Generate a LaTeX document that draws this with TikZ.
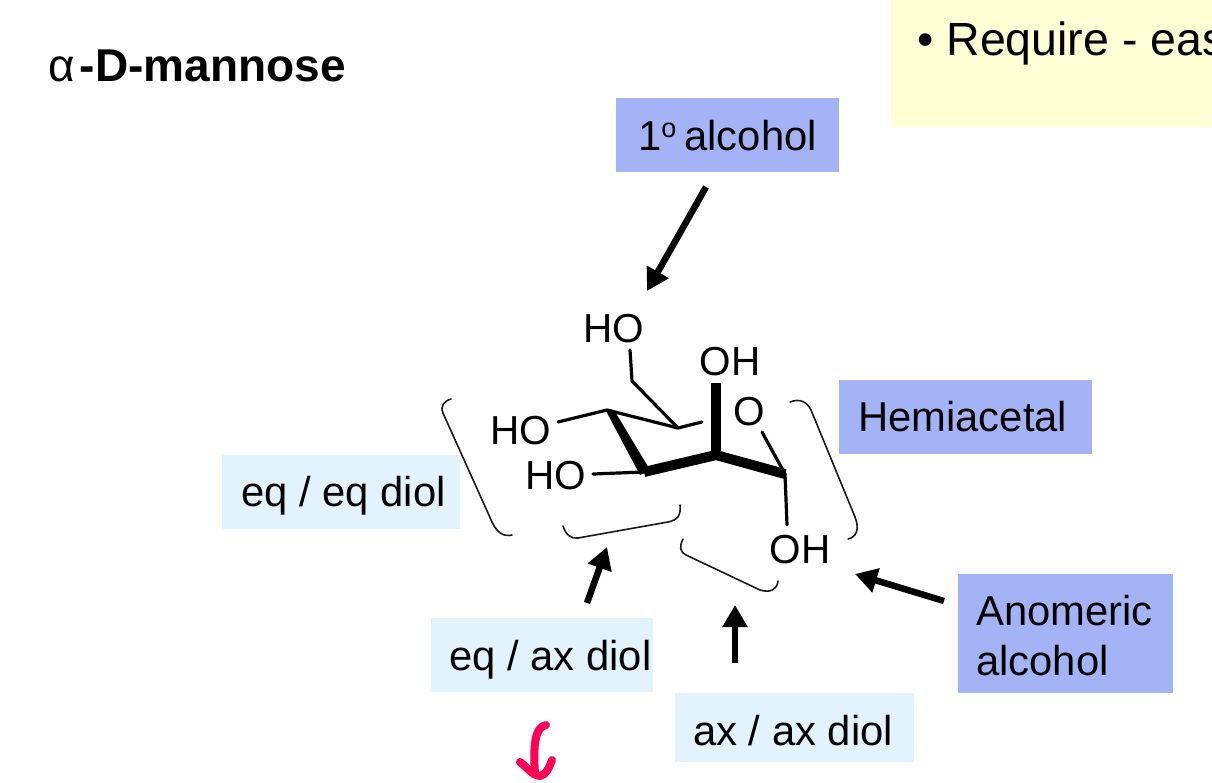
\documentclass[tikz,border=0pt]{standalone}
\usepackage{fontspec}
\setmainfont{Liberation Sans}
\usetikzlibrary{arrows.meta}
\definecolor{bluebox}{HTML}{A4B3F5}
\definecolor{palebox}{HTML}{E3F3FD}
\definecolor{yellowbox}{HTML}{FFFFD6}
\definecolor{pinkmark}{HTML}{FF0055}
\tikzset{
  x=1pt,y=-1pt,
  atomlabel/.style={font=\fontsize{40.5}{44}\selectfont,inner sep=0pt,text=black},
  tagbox/.style n args={3}{anchor=north west,rectangle,fill=#1,inner sep=0pt,
    minimum width=#2,minimum height=#3,outer sep=0pt},
  tagtext/.style={anchor=west,inner sep=0pt,text=black,align=left,
    font=\fontsize{41.8}{50}\selectfont},
  thinbond/.style={line width=3.2pt,line cap=round,line join=round},
  boldbond/.style={line width=10pt,line join=round},
  bracketline/.style={line width=1.6pt,line cap=round,draw=black!90},
  pointer/.style={line width=6.5pt,-{Triangle[length=22pt,width=24pt]}},
  scribble/.style={draw=pinkmark,line width=8pt,line cap=round,line join=round},
}
\newcommand{\degreeo}{\raisebox{13pt}{\fontsize{27}{27}\selectfont o}}
\begin{document}
\begin{tikzpicture}
\useasboundingbox (0,0) rectangle (1212,782);
\clip (0,0) rectangle (1212,782);

% panels
\node[anchor=north west,rectangle,fill=yellowbox,minimum width=325pt,minimum height=127pt,inner sep=0pt,outer sep=0pt] (note) at (891,0) {};
\node[anchor=base west,inner sep=0pt,font=\fontsize{46.5}{50}\selectfont] (notetext) at (917,55) {•\hspace{13pt}Require - eas};
\node[anchor=base west,inner sep=0pt,font=\fontsize{46}{50}\selectfont] (title) at (48,81) {α\hspace{5pt}\textbf{-D-mannose}};

\node[tagbox={bluebox}{223pt}{74pt}] (primary) at (616,98) {};
\node[tagbox={bluebox}{253pt}{74pt}] (hemi) at (839,380) {};
\node[tagbox={bluebox}{215pt}{119pt}] (anomeric) at (958,574) {};
\node[tagbox={palebox}{238pt}{74pt}] (eqeq) at (222,455) {};
\node[tagbox={palebox}{222pt}{74pt}] (eqax) at (431,618) {};
\node[tagbox={palebox}{239pt}{69pt}] (axax) at (675,693) {};

\node[tagtext] (primarytext) at ([xshift=22pt,yshift=-1pt]primary.west) {1\degreeo\hspace{8pt}alcohol};
\node[tagtext] (hemitext) at ([xshift=19pt,yshift=0pt]hemi.west) {Hemiacetal};
\node[tagtext] (anomerictext) at ([xshift=18pt,yshift=-2pt]anomeric.west) {Anomeric\\alcohol};
\node[tagtext] (eqeqtext) at ([xshift=19pt,yshift=-4pt]eqeq.west) {eq / eq diol};
\node[tagtext] (eqaxtext) at ([xshift=18pt,yshift=-5pt]eqax.west) {eq / ax diol};
\node[tagtext] (axaxtext) at ([xshift=18pt,yshift=-3pt]axax.west) {ax / ax diol};

% atoms
\node[atomlabel] (hotop) at (614,329) {HO};
\node[atomlabel] (ohtop) at (730,362) {OH};
\node[atomlabel] (ring) at (749,412) {O};
\node[atomlabel] (hoback) at (521,431) {HO};
\node[atomlabel] (hofront) at (556,476) {HO};
\node[atomlabel] (ohbottom) at (800,550) {OH};

\coordinate (cfive) at (607,410);
\coordinate (cback) at (678,428);
\coordinate (cfront) at (644,472);
\coordinate (cmid) at (716,455);
\coordinate (cright) at (785,474);
\coordinate (chtwo) at (632,381);
\coordinate (ringend) at (702,422);
\coordinate (hotopend) at (630,350);
\coordinate (hobackend) at (558,422);
\coordinate (hofrontend) at (593,474);
\coordinate (ohtopend) at (716,383);
\coordinate (ringstart) at (762,432);
\coordinate (ohbottomend) at (787,525);

% bonds
\draw[thinbond] (hotopend) -- (chtwo) -- (cback);
\draw[thinbond] (hobackend) -- (cfive) -- (cback) -- (ringend);
\draw[thinbond] (hofrontend) -- (cfront);
\draw[thinbond] (ringstart) -- (cright) -- (ohbottomend);
\fill (605,409) -- (614,410) -- (650,470) -- (640,475) -- cycle;
\draw[boldbond,line cap=butt] (cfront) -- (cmid) -- (cright);
\draw[line width=10.5pt] (ohtopend) -- (cmid);

% brackets
\draw[bracketline] (451,399) .. controls (444,401) and (440,406) .. (443,413) -- (492,522) .. controls (497,533) and (504,537) .. (512,535);
\draw[bracketline] (563,526) .. controls (566,535) and (571,539) .. (578,538) -- (668,522) .. controls (678,520) and (681,515) .. (680,505);
\draw[bracketline] (683,539) .. controls (679,547) and (680,552) .. (686,555) -- (760,590) .. controls (770,593) and (777,590) .. (778,581);
\draw[bracketline] (790,402) .. controls (800,398) and (807,402) .. (811,410) -- (855,517) .. controls (860,530) and (856,537) .. (848,539);

% pointers
\coordinate (ptailprimary) at (706,187);
\coordinate (ptipprimary) at (647,291);
\coordinate (ptaileqax) at (587,603);
\coordinate (ptipeqax) at (607,547);
\coordinate (ptailaxax) at (735,663);
\coordinate (ptipaxax) at (735,605);
\coordinate (ptailanomeric) at (944,601);
\coordinate (ptipanomeric) at (855,574);
\draw[pointer] (ptailprimary) -- (ptipprimary);
\draw[pointer] (ptaileqax) -- (ptipeqax);
\draw[pointer] (ptailaxax) -- (ptipaxax);
\draw[pointer] (ptailanomeric) -- (ptipanomeric);

% handwritten mark
\draw[scribble] (546,725) .. controls (535,727) and (533,745) .. (535,774);
\draw[scribble] (520,762) .. controls (528,768) and (533,776) .. (540,776) .. controls (546,775) and (549,768) .. (552,760);
\end{tikzpicture}
\end{document}
